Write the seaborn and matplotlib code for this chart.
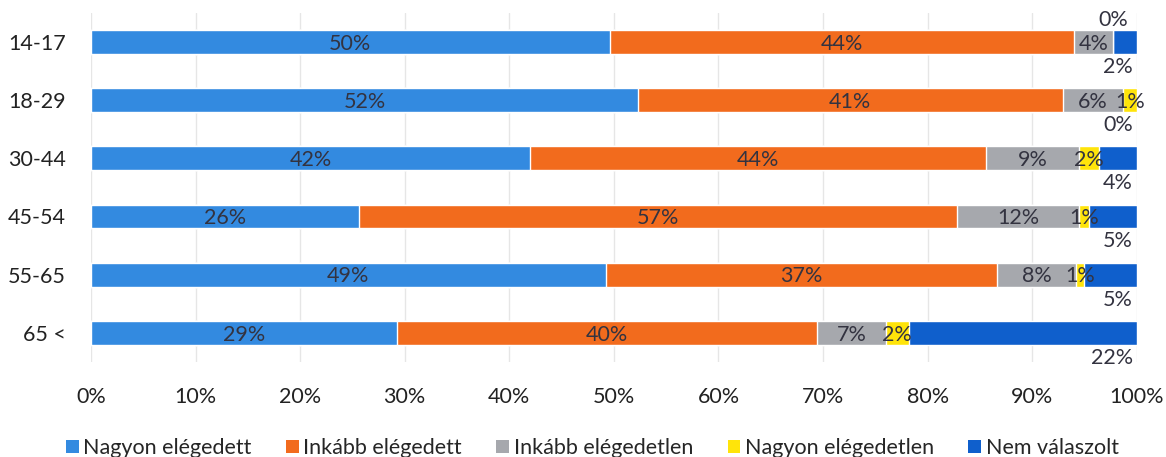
import numpy as np
import pandas as pd
import seaborn as sns
from matplotlib import pyplot as plt
from matplotlib.patches import Patch

# Age groups and answer shares (%)
groups = ['14-17', '18-29', '30-44', '45-54', '55-65', '65 <']
series_names = ['Nagyon elégedett', 'Inkább elégedett', 'Inkább elégedetlen',
                'Nagyon elégedetlen', 'Nem válaszolt']
nagyon_elegedett = [49.6, 52.3, 42.0, 25.6, 49.2, 29.3]
inkabb_elegedett = [44.4, 40.6, 43.6, 57.2, 37.4, 40.1]
inkabb_elegedetlen = [3.7, 5.8, 8.9, 11.7, 7.6, 6.6]
nagyon_elegedetlen = [0.0, 1.3, 1.9, 0.9, 0.7, 2.2]
nem_valaszolt = [2.3, 0.0, 3.6, 4.6, 5.1, 21.8]
x_ticks = [0, 10, 20, 30, 40, 50, 60, 70, 80, 90, 100]

colors = ['#338ae0', '#f26b1d', '#a6a8ad', '#ffe40a', '#0f5fcc']
text_color = '#333340'

sns.set_style('white')
plt.rcParams['font.family'] = ['Lato', 'DejaVu Sans']

values = np.array([nagyon_elegedett, inkabb_elegedett, inkabb_elegedetlen,
                   nagyon_elegedetlen, nem_valaszolt])
cum = values.cumsum(axis=0)
left = cum - values

fig = plt.figure(figsize=(11.66, 4.57), dpi=100)
ax = fig.add_axes([0.078, 0.208, 0.897, 0.764])

bar_h = 0.41
# stacked bars: draw cumulative totals from the right-most series back
for i in reversed(range(len(series_names))):
    df = pd.DataFrame({'group': groups, 'value': cum[i]})
    sns.barplot(data=df, x='value', y='group', color=colors[i], width=bar_h,
                orient='h', saturation=1, ax=ax, zorder=2)

# data labels
fs = 15.5
for i in range(len(series_names)):
    for j, g in enumerate(groups):
        v = values[i, j]
        label = f'{v:.0f}%'
        if i == len(series_names) - 1:
            ax.text(99.6, j + 0.43, label, ha='right', va='center',
                    fontsize=fs, color=text_color)
        elif v == 0:
            ax.text(left[i, j], j - 0.37, label, ha='center', va='center',
                    fontsize=fs, color=text_color)
        else:
            ax.text(left[i, j] + v / 2, j + 0.03, label, ha='center', va='center',
                    fontsize=fs, color=text_color)

ax.set_xlim(0, 100)
ax.set_ylim(len(groups) - 0.5, -0.5)
ax.set_xticks(x_ticks)
ax.set_xticklabels([f'{t}%' for t in x_ticks])
ax.set_xlabel('')
ax.set_ylabel('')
ax.tick_params(axis='x', length=0, pad=18, labelsize=fs, colors='#222222')
ax.tick_params(axis='y', length=0, pad=18, labelsize=fs, colors='#222222')
ax.grid(axis='x', color='#e6e6e6', linewidth=1, zorder=0)
ax.set_axisbelow(True)
sns.despine(ax=ax, left=True, bottom=True)

handles = [Patch(facecolor=c, edgecolor='none') for c in colors]
fig.legend(handles, series_names, loc='lower center', bbox_to_anchor=(0.508, -0.045),
           ncol=5, frameon=False, fontsize=fs, handlelength=0.6, handleheight=0.6,
           handletextpad=0.2, columnspacing=1.6)

plt.savefig('out.png', dpi=100)
plt.close()
